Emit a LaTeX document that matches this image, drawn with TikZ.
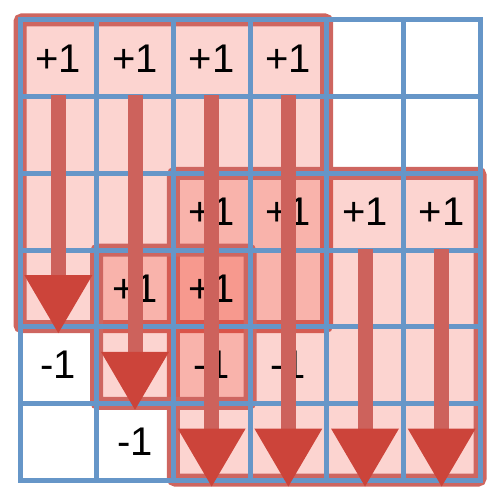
\documentclass[tikz,border=0pt]{standalone}
\usepackage{fontspec}
\setmainfont{Liberation Sans}
\usetikzlibrary{positioning,arrows.meta}
\definecolor{gridblue}{RGB}{102,150,200}
\definecolor{blockred}{RGB}{206,102,96}
\definecolor{blockfill}{RGB}{240,60,40}
\definecolor{shaftred}{RGB}{205,98,92}
\definecolor{headred}{RGB}{204,68,58}

\begin{document}
\begin{tikzpicture}[x=1pt,y=-1pt,
  block/.style={draw=blockred,line width=13pt,rounded corners=2pt,fill=blockfill,fill opacity=.22},
  cell/.style={draw=gridblue,line width=5pt,minimum size=76.667pt,inner sep=0pt},
  num/.style={inner sep=0pt,font=\fontsize{40}{40}\selectfont},
  sweep/.style={line width=15pt,shaftred,-{Triangle[width=68pt,length=58pt,line width=0pt,color=headred]}}]
\def\cs{76.667}
\useasboundingbox (0,0) rectangle (500,500);

% blocks
\draw[block] (20,20) rectangle ++(4*\cs,4*\cs);
\draw[block] (20+2*\cs,20+2*\cs) rectangle ++(4*\cs,4*\cs);
\draw[block] (20+\cs,20+3*\cs) rectangle ++(2*\cs,2*\cs);

% grid
\foreach \r in {0,...,5}
  \foreach \c in {0,...,5}
    \node[cell] (c\r\c) at ({20+(\c+.5)*\cs},{20+(\r+.5)*\cs}) {};

% values
\foreach \r/\c/\t in {0/0/+1,0/1/+1,0/2/+1,0/3/+1,2/2/+1,2/3/+1,2/4/+1,2/5/+1,
                      3/1/+1,3/2/+1,4/0/-1,4/2/-1,4/3/-1,5/1/-1}
  \node[num] (n\r\c) at (c\r\c) {\t};

% arrows
\foreach \c/\a/\b in {0/1/3,1/1/4,2/1/5,3/1/5,4/3/5,5/3/5}
  \draw[sweep] ([yshift=-1pt]c\a\c.north) -- ([yshift=-4pt]c\b\c.south);
\end{tikzpicture}
\end{document}
